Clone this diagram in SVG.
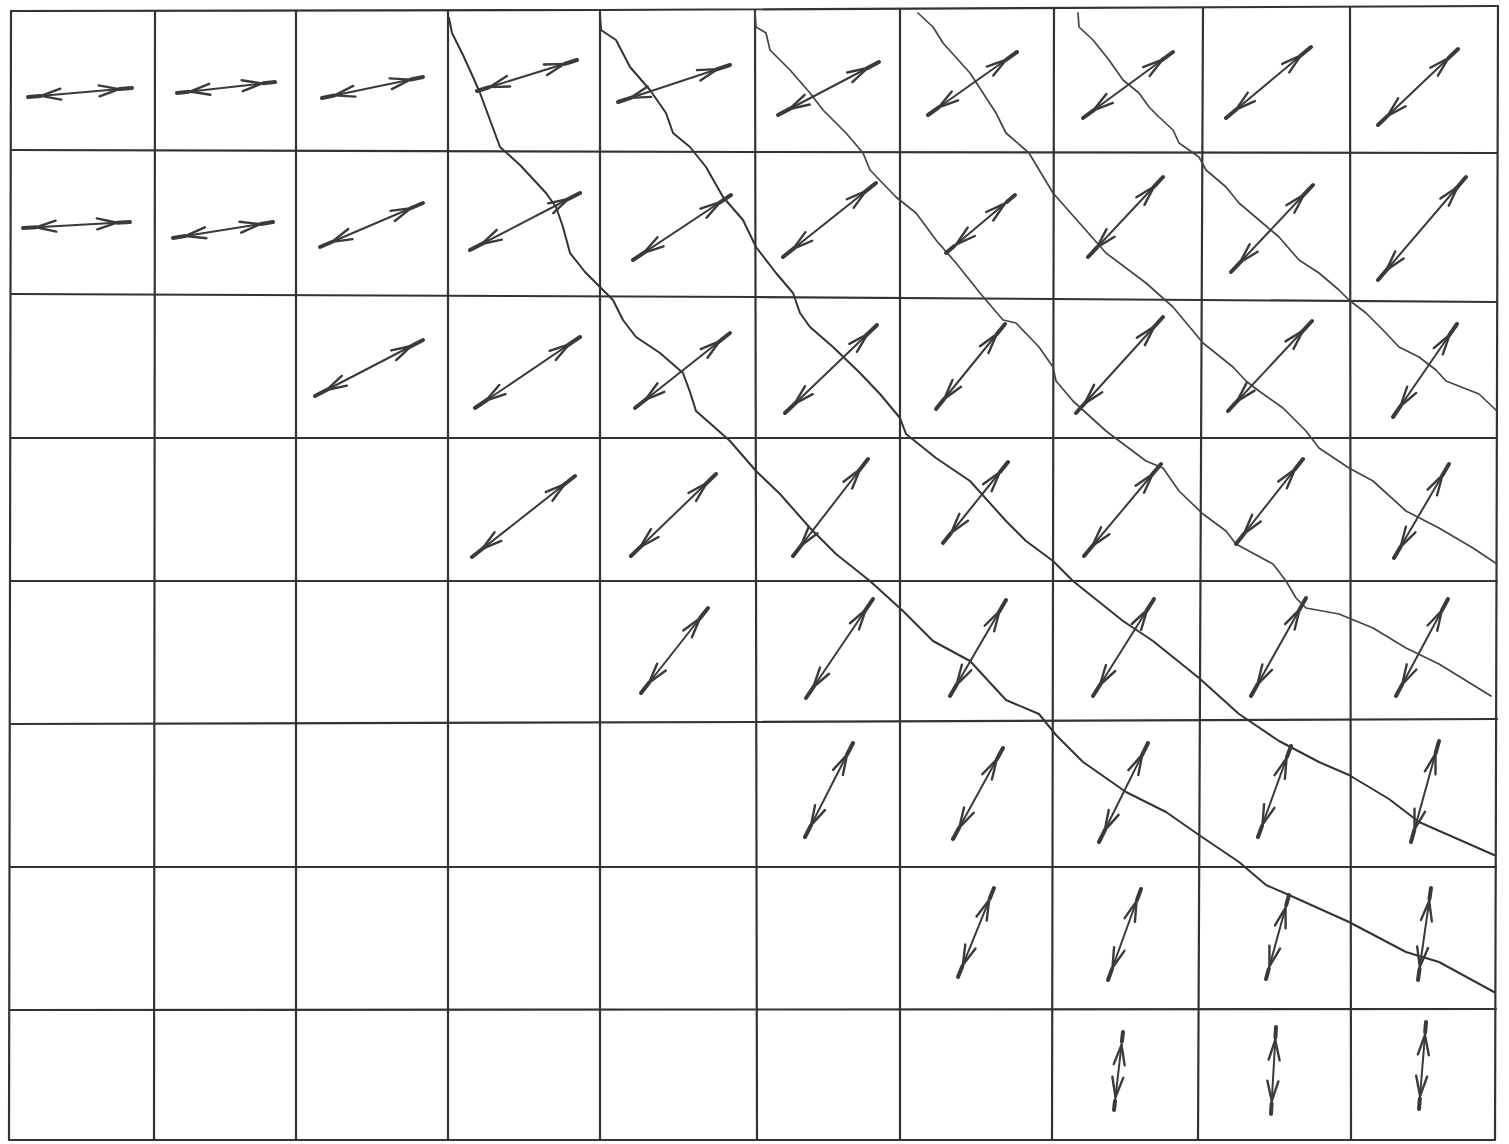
<svg xmlns="http://www.w3.org/2000/svg" width="1509" height="1144" viewBox="0 0 1509 1144">
<style>
.g{fill:none;stroke:#333;stroke-width:2.2;stroke-linecap:round;stroke-linejoin:round}
.a{fill:none;stroke:#3a3a3a;stroke-width:2;stroke-linecap:round;marker-start:url(#h);marker-end:url(#h)}
.t{fill:none;stroke:#3a3a3a;stroke-width:4;stroke-linecap:round;stroke-dasharray:12 76 12}
.c{fill:none;stroke:#333;stroke-width:2;stroke-linejoin:round;stroke-linecap:round}
.c2{fill:none;stroke:#444;stroke-width:1.7;stroke-linejoin:round;stroke-linecap:round}
</style>
<defs>
<marker id="h" markerUnits="userSpaceOnUse" viewBox="-40 -20 40 40" markerWidth="40" markerHeight="40" refX="0" refY="0" orient="auto-start-reverse">
<path d="M -33 -5.5 L -13 0 L -33 5.5" fill="none" stroke="#3a3a3a" stroke-width="2.4" stroke-linecap="round" stroke-linejoin="round"/>
</marker>
</defs>
<rect width="1509" height="1144" fill="#fff"/>
<g id="grid">
<path class="g" d="M11,11 L600,10 L1498,6"/>
<path class="g" d="M11,150 L755,152 L1497,153"/>
<path class="g" d="M11,294 L755,297 L1497,302"/>
<path class="g" d="M11,438 L1497,438"/>
<path class="g" d="M11,581 L1497,581"/>
<path class="g" d="M11,724 L755,722 L1497,719"/>
<path class="g" d="M10,867 L1496,867"/>
<path class="g" d="M10,1010 L1496,1009"/>
<path class="g" d="M9,1140 L1495,1140"/>
<path class="g" d="M11,11 L9,1140"/>
<path class="g" d="M155,11 L154,1140"/>
<path class="g" d="M296,11 L296,1140"/>
<path class="g" d="M448,11 L448,1140"/>
<path class="g" d="M600,10 L600,1140"/>
<path class="g" d="M755,10 L757,1140"/>
<path class="g" d="M900,9 L900,1140"/>
<path class="g" d="M1054,8 L1052,1140"/>
<path class="g" d="M1203,8 L1198,1140"/>
<path class="g" d="M1350,7 L1351,1140"/>
<path class="g" d="M1498,6 L1495,1140"/>
</g>
<g id="curves">
<polyline id="curve-a" class="c" points="449,18 452,33 463,55 473,77 480,93 490,120 500,147 520,165 546,193 556,207 563,227 570,253 585,272 600,287 613,300 623,320 636,337 660,353 683,373 690,392 696,411 712,425 730,441 756,471 780,494 810,528 836,554 870,581 903,611 933,641 970,661 1006,700 1039,714 1056,735 1083,762 1126,792 1166,812 1199,835 1239,862 1266,885 1289,895 1349,922 1406,952 1439,962 1494,992"/>
<polyline id="curve-b" class="c" points="600,15 601,30 616,40 630,67 650,90 666,113 673,133 690,147 706,167 723,197 743,220 756,247 776,273 793,293 800,313 810,327 833,347 860,373 880,394 900,418 906,434 936,458 970,481 1006,521 1026,541 1053,561 1073,581 1123,621 1153,641 1199,678 1239,714 1279,741 1319,762 1349,775 1389,799 1419,822 1494,855"/>
<polyline id="curve-c" class="c2" points="755,13 756,27 766,33 770,50 790,70 810,93 823,110 846,133 863,153 870,170 896,197 916,213 936,240 956,263 980,293 1003,320 1016,323 1039,347 1053,367 1056,381 1073,401 1106,431 1146,461 1163,468 1179,491 1203,514 1226,531 1236,544 1273,564 1286,581 1296,598 1306,608 1339,614 1373,628 1406,648 1439,664 1491,696"/>
<polyline id="curve-d" class="c2" points="918,13 933,27 943,43 970,73 996,113 1006,133 1029,153 1053,193 1083,227 1106,253 1146,283 1173,307 1203,343 1233,367 1246,381 1259,391 1283,408 1306,431 1319,448 1349,468 1373,481 1406,511 1439,528 1473,548 1497,564"/>
<polyline id="curve-e" class="c2" points="1078,13 1079,27 1093,40 1109,60 1123,80 1139,93 1149,107 1159,117 1173,130 1179,143 1199,157 1206,170 1226,187 1239,203 1259,220 1279,237 1299,260 1319,273 1339,290 1349,300 1366,313 1383,330 1399,347 1419,357 1436,370 1446,381 1479,394 1497,411"/>
</g>
<g id="arrows">
<g id="r0c0"><path class="a" d="M28,97 L132,88"/><path class="t" pathLength="100" d="M28,97 L132,88"/></g>
<g id="r0c1"><path class="a" d="M177,93 L275,82"/><path class="t" pathLength="100" d="M177,93 L275,82"/></g>
<g id="r0c2"><path class="a" d="M322,98 L423,77"/><path class="t" pathLength="100" d="M322,98 L423,77"/></g>
<g id="r0c3"><path class="a" d="M477,91 L577,60"/><path class="t" pathLength="100" d="M477,91 L577,60"/></g>
<g id="r0c4"><path class="a" d="M618,102 L730,65"/><path class="t" pathLength="100" d="M618,102 L730,65"/></g>
<g id="r0c5"><path class="a" d="M778,115 L879,62"/><path class="t" pathLength="100" d="M778,115 L879,62"/></g>
<g id="r0c6"><path class="a" d="M928,115 L1017,52"/><path class="t" pathLength="100" d="M928,115 L1017,52"/></g>
<g id="r0c7"><path class="a" d="M1083,118 L1173,52"/><path class="t" pathLength="100" d="M1083,118 L1173,52"/></g>
<g id="r0c8"><path class="a" d="M1226,118 L1311,47"/><path class="t" pathLength="100" d="M1226,118 L1311,47"/></g>
<g id="r0c9"><path class="a" d="M1378,125 L1458,49"/><path class="t" pathLength="100" d="M1378,125 L1458,49"/></g>
<g id="r1c0"><path class="a" d="M23,228 L130,222"/><path class="t" pathLength="100" d="M23,228 L130,222"/></g>
<g id="r1c1"><path class="a" d="M173,238 L273,222"/><path class="t" pathLength="100" d="M173,238 L273,222"/></g>
<g id="r1c2"><path class="a" d="M320,247 L423,203"/><path class="t" pathLength="100" d="M320,247 L423,203"/></g>
<g id="r1c3"><path class="a" d="M470,250 L580,193"/><path class="t" pathLength="100" d="M470,250 L580,193"/></g>
<g id="r1c4"><path class="a" d="M633,260 L731,195"/><path class="t" pathLength="100" d="M633,260 L731,195"/></g>
<g id="r1c5"><path class="a" d="M783,257 L876,183"/><path class="t" pathLength="100" d="M783,257 L876,183"/></g>
<g id="r1c6"><path class="a" d="M946,253 L1015,195"/><path class="t" pathLength="100" d="M946,253 L1015,195"/></g>
<g id="r1c7"><path class="a" d="M1088,257 L1163,177"/><path class="t" pathLength="100" d="M1088,257 L1163,177"/></g>
<g id="r1c8"><path class="a" d="M1231,272 L1313,185"/><path class="t" pathLength="100" d="M1231,272 L1313,185"/></g>
<g id="r1c9"><path class="a" d="M1378,280 L1466,177"/><path class="t" pathLength="100" d="M1378,280 L1466,177"/></g>
<g id="r2c2"><path class="a" d="M315,396 L423,340"/><path class="t" pathLength="100" d="M315,396 L423,340"/></g>
<g id="r2c3"><path class="a" d="M475,408 L580,337"/><path class="t" pathLength="100" d="M475,408 L580,337"/></g>
<g id="r2c4"><path class="a" d="M635,408 L730,333"/><path class="t" pathLength="100" d="M635,408 L730,333"/></g>
<g id="r2c5"><path class="a" d="M785,413 L877,325"/><path class="t" pathLength="100" d="M785,413 L877,325"/></g>
<g id="r2c6"><path class="a" d="M936,409 L1005,324"/><path class="t" pathLength="100" d="M936,409 L1005,324"/></g>
<g id="r2c7"><path class="a" d="M1076,413 L1163,317"/><path class="t" pathLength="100" d="M1076,413 L1163,317"/></g>
<g id="r2c8"><path class="a" d="M1228,411 L1312,321"/><path class="t" pathLength="100" d="M1228,411 L1312,321"/></g>
<g id="r2c9"><path class="a" d="M1393,417 L1457,324"/><path class="t" pathLength="100" d="M1393,417 L1457,324"/></g>
<g id="r3c3"><path class="a" d="M472,557 L575,476"/><path class="t" pathLength="100" d="M472,557 L575,476"/></g>
<g id="r3c4"><path class="a" d="M631,556 L716,474"/><path class="t" pathLength="100" d="M631,556 L716,474"/></g>
<g id="r3c5"><path class="a" d="M793,556 L868,459"/><path class="t" pathLength="100" d="M793,556 L868,459"/></g>
<g id="r3c6"><path class="a" d="M943,543 L1008,462"/><path class="t" pathLength="100" d="M943,543 L1008,462"/></g>
<g id="r3c7"><path class="a" d="M1084,556 L1161,464"/><path class="t" pathLength="100" d="M1084,556 L1161,464"/></g>
<g id="r3c8"><path class="a" d="M1236,544 L1303,459"/><path class="t" pathLength="100" d="M1236,544 L1303,459"/></g>
<g id="r3c9"><path class="a" d="M1394,558 L1449,464"/><path class="t" pathLength="100" d="M1394,558 L1449,464"/></g>
<g id="r4c4"><path class="a" d="M641,693 L708,608"/><path class="t" pathLength="100" d="M641,693 L708,608"/></g>
<g id="r4c5"><path class="a" d="M806,698 L873,599"/><path class="t" pathLength="100" d="M806,698 L873,599"/></g>
<g id="r4c6"><path class="a" d="M950,696 L1006,600"/><path class="t" pathLength="100" d="M950,696 L1006,600"/></g>
<g id="r4c7"><path class="a" d="M1093,696 L1154,599"/><path class="t" pathLength="100" d="M1093,696 L1154,599"/></g>
<g id="r4c8"><path class="a" d="M1251,696 L1306,598"/><path class="t" pathLength="100" d="M1251,696 L1306,598"/></g>
<g id="r4c9"><path class="a" d="M1396,696 L1448,599"/><path class="t" pathLength="100" d="M1396,696 L1448,599"/></g>
<g id="r5c5"><path class="a" d="M805,837 L853,743"/><path class="t" pathLength="100" d="M805,837 L853,743"/></g>
<g id="r5c6"><path class="a" d="M953,839 L1003,748"/><path class="t" pathLength="100" d="M953,839 L1003,748"/></g>
<g id="r5c7"><path class="a" d="M1099,842 L1148,743"/><path class="t" pathLength="100" d="M1099,842 L1148,743"/></g>
<g id="r5c8"><path class="a" d="M1258,837 L1291,746"/><path class="t" pathLength="100" d="M1258,837 L1291,746"/></g>
<g id="r5c9"><path class="a" d="M1411,842 L1439,741"/><path class="t" pathLength="100" d="M1411,842 L1439,741"/></g>
<g id="r6c6"><path class="a" d="M958,977 L994,888"/><path class="t" pathLength="100" d="M958,977 L994,888"/></g>
<g id="r6c7"><path class="a" d="M1108,980 L1141,889"/><path class="t" pathLength="100" d="M1108,980 L1141,889"/></g>
<g id="r6c8"><path class="a" d="M1266,979 L1289,895"/><path class="t" pathLength="100" d="M1266,979 L1289,895"/></g>
<g id="r6c9"><path class="a" d="M1418,980 L1431,888"/><path class="t" pathLength="100" d="M1418,980 L1431,888"/></g>
<g id="r7c7"><path class="a" d="M1114,1110 L1123,1032"/><path class="t" pathLength="100" d="M1114,1110 L1123,1032"/></g>
<g id="r7c8"><path class="a" d="M1271,1114 L1276,1027"/><path class="t" pathLength="100" d="M1271,1114 L1276,1027"/></g>
<g id="r7c9"><path class="a" d="M1419,1109 L1426,1022"/><path class="t" pathLength="100" d="M1419,1109 L1426,1022"/></g>
</g>
</svg>
